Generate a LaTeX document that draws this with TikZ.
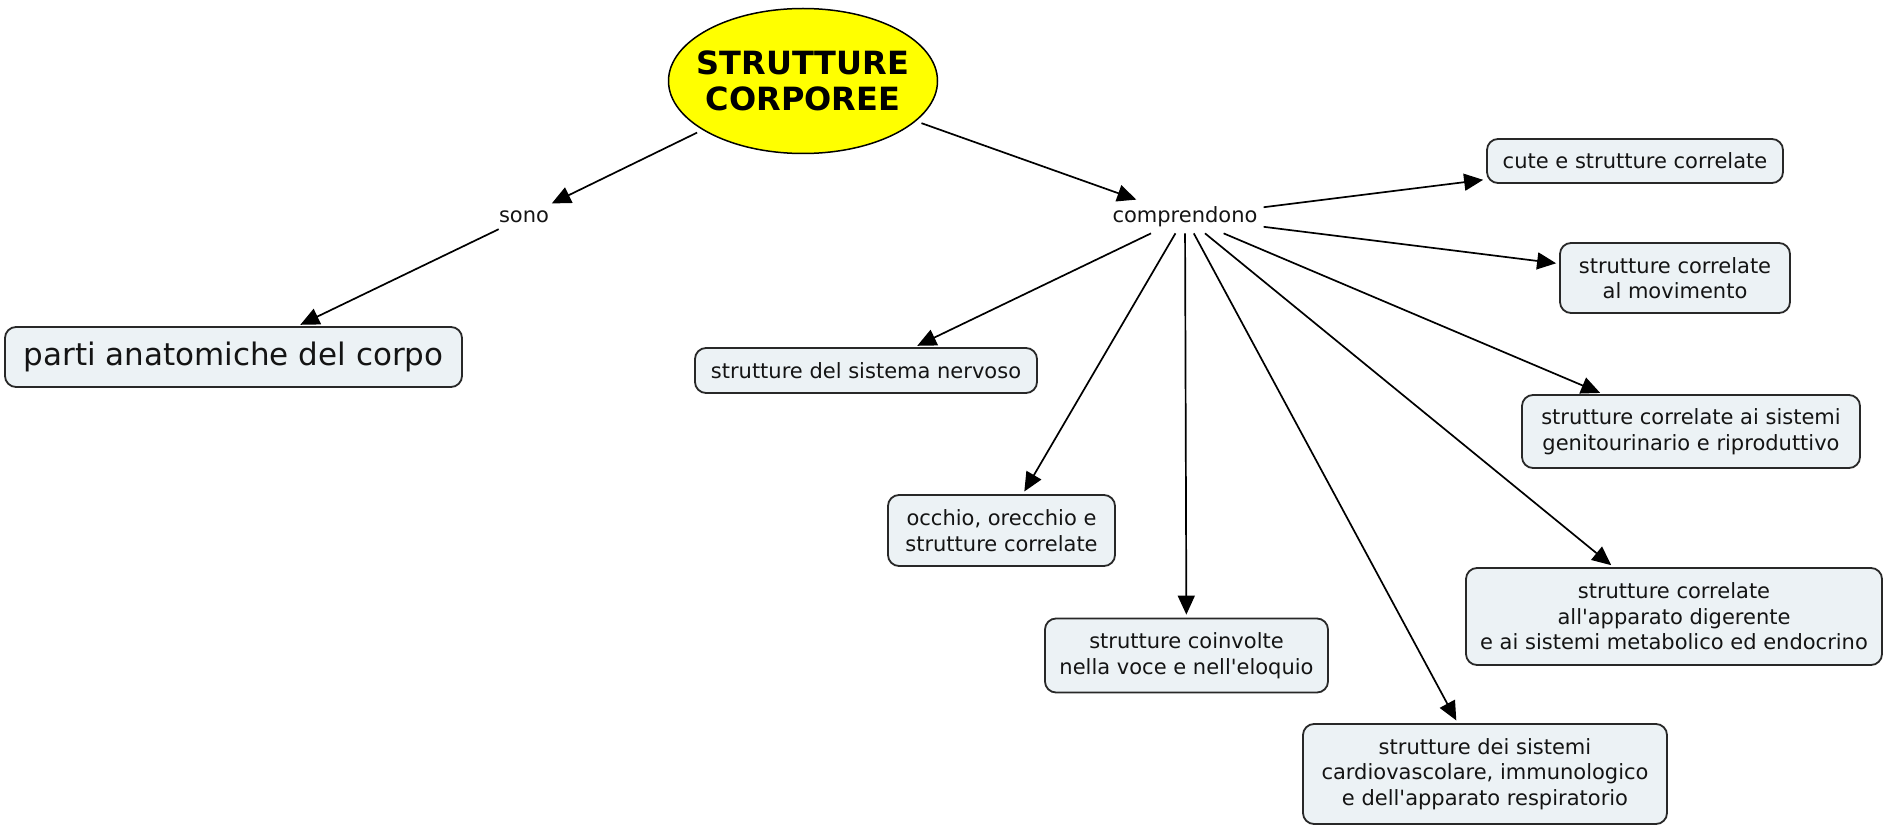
\documentclass[tikz,border=0pt]{standalone}
\usepackage{fontspec}
% straight apostrophes, as typed
\setmainfont{DejaVu Sans}[Ligatures=TeXOff]
\usetikzlibrary{arrows.meta,shapes.geometric}
\definecolor{boxfill}{RGB}{236,242,245}
\definecolor{boxline}{RGB}{40,40,40}
\definecolor{inktext}{RGB}{20,20,20}
\definecolor{titlefill}{RGB}{255,255,0}

\begin{document}
\begin{tikzpicture}[x=1pt,y=-1pt,
  concept/.style={draw=boxline, line width=1.8pt, fill=boxfill, rounded corners=11pt,
    align=center, font=\fontsize{21}{25.5}\selectfont, text=inktext, inner sep=0pt},
  linkword/.style={font=\fontsize{21}{25.5}\selectfont, text=inktext, inner sep=6pt},
  link/.style={line width=1.7pt, draw=black, -{Triangle[length=19pt,width=17pt]}, shorten >=3pt},
]
\useasboundingbox (0,0) rectangle (1883,829);

% central concept
\node[ellipse, draw=black, line width=1.5pt, fill=titlefill, minimum width=269pt,
      minimum height=145pt, inner sep=0pt, outer sep=6pt] (title) at (803,81) {};
\node[align=center, inner sep=0pt, text=black,
      font=\bfseries\fontsize{32}{36}\selectfont] (titletext) at (title.center) {STRUTTURE\\CORPOREE};

% linking words
\node[linkword] (sono) at (524,217) {sono};
\node[linkword] (comp) at (1185,217) {comprendono};

% concepts
\node[concept, minimum width=457pt, minimum height=60pt, font=\fontsize{31}{36}\selectfont]
  (parti) at (233.5,357) {parti anatomiche del corpo};
\node[concept, minimum width=342pt, minimum height=45pt] (nervoso) at (866,370.5)
  {strutture del sistema nervoso};
\node[concept, minimum width=227pt, minimum height=71pt] (occhio) at (1001.5,530.5)
  {occhio, orecchio e\\strutture correlate};
\node[concept, minimum width=283pt, minimum height=74pt] (voce) at (1186.5,655.5)
  {strutture coinvolte\\nella voce e nell'eloquio};
\node[concept, minimum width=364pt, minimum height=100pt] (cardio) at (1485,774)
  {strutture dei sistemi\\cardiovascolare, immunologico\\e dell'apparato respiratorio};
\node[concept, minimum width=416pt, minimum height=97pt] (digerente) at (1674,616.5)
  {strutture correlate\\all'apparato digerente\\e ai sistemi metabolico ed endocrino};
\node[concept, minimum width=338pt, minimum height=73pt] (genito) at (1691,431.5)
  {strutture correlate ai sistemi\\genitourinario e riproduttivo};
\node[concept, minimum width=230pt, minimum height=70pt] (movimento) at (1675,278)
  {strutture correlate\\al movimento};
\node[concept, minimum width=296pt, minimum height=44pt] (cute) at (1635,161)
  {cute e strutture correlate};

% connections
\draw[link] (title) -- (sono);
\draw[link] (sono) -- (parti);
\draw[link] (title) -- (comp);
\draw[link] (comp) -- (cute);
\draw[link] (comp) -- (movimento);
\draw[link] (comp) -- (genito);
\draw[link] (comp) -- (digerente);
\draw[link] (comp) -- (cardio);
\draw[link] (comp) -- (voce);
\draw[link] (comp) -- (occhio);
\draw[link] (comp) -- (nervoso);
\end{tikzpicture}
\end{document}
